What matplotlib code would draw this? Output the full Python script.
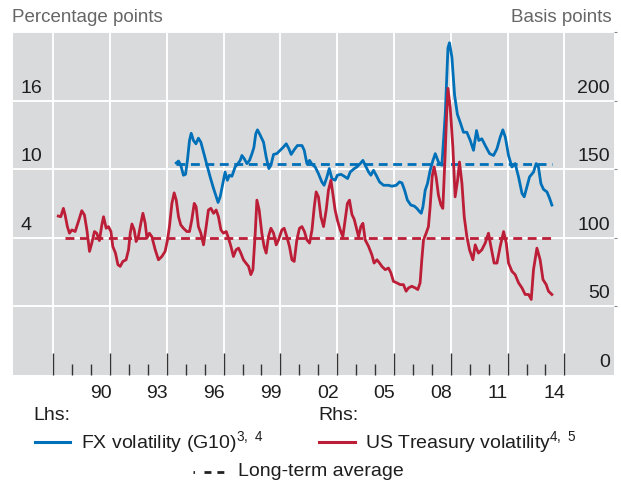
import numpy as np
import matplotlib
matplotlib.use("Agg")
import matplotlib.pyplot as plt
from matplotlib.lines import Line2D
import matplotlib.transforms as mtransforms

plt.rcParams['font.family'] = ['Liberation Sans', 'DejaVu Sans']
plt.rcParams['mathtext.default'] = 'regular'

# FX volatility (G10), percentage points, lhs
fx_year = [1994.50, 1994.62, 1994.74, 1994.88, 1994.99, 1995.09, 1995.20, 1995.29, 1995.41, 1995.54,
           1995.67, 1995.80, 1995.94, 1996.12, 1996.29, 1996.47, 1996.61, 1996.71, 1996.82, 1996.96,
           1997.08, 1997.20, 1997.31, 1997.44, 1997.61, 1997.73, 1997.88, 1997.97, 1998.09, 1998.23,
           1998.37, 1998.50, 1998.60, 1998.70, 1998.79, 1998.93, 1999.11, 1999.25, 1999.39, 1999.50,
           1999.64, 1999.81, 1999.99, 2000.16, 2000.31, 2000.45, 2000.57, 2000.73, 2000.90, 2001.14,
           2001.26, 2001.40, 2001.54, 2001.67, 2001.84, 2002.01, 2002.19, 2002.31, 2002.46, 2002.58,
           2002.72, 2002.89, 2003.01, 2003.20, 2003.37, 2003.55, 2003.69, 2003.90, 2004.04, 2004.22,
           2004.36, 2004.48, 2004.66, 2004.78, 2004.92, 2005.06, 2005.24, 2005.45, 2005.71, 2005.89,
           2006.12, 2006.29, 2006.42, 2006.56, 2006.71, 2006.89, 2007.07, 2007.21, 2007.35, 2007.44,
           2007.53, 2007.65, 2007.77, 2007.91, 2008.06, 2008.18, 2008.35, 2008.53, 2008.71, 2008.85,
           2008.93, 2009.06, 2009.20, 2009.35, 2009.50, 2009.67, 2009.85, 2010.03, 2010.20, 2010.36,
           2010.48, 2010.64, 2010.82, 2011.05, 2011.26, 2011.44, 2011.61, 2011.75, 2011.88, 2012.05,
           2012.23, 2012.40, 2012.58, 2012.76, 2012.88, 2013.02, 2013.16, 2013.37, 2013.51, 2013.63,
           2013.76, 2013.90, 2014.08, 2014.22, 2014.34]
fx_vol = [10.55, 10.72, 10.35, 9.48, 9.56, 10.78, 12.52, 13.15, 12.52, 12.23,
          12.72, 12.37, 11.50, 10.35, 9.33, 8.32, 7.59, 7.10, 7.59, 8.75,
          9.76, 9.04, 9.48, 9.39, 10.20, 10.44, 10.78, 11.21, 10.93, 10.50,
          10.78, 11.37, 11.90, 13.10, 13.45, 13.00, 12.37, 11.07, 10.06, 10.35,
          11.30, 11.37, 11.66, 11.94, 12.23, 11.80, 11.30, 11.71, 12.08, 12.08,
          11.66, 10.50, 10.78, 10.44, 10.20, 9.62, 8.89, 8.60, 9.33, 10.06,
          9.19, 9.04, 9.48, 9.56, 9.39, 9.19, 9.76, 10.06, 10.20, 10.50,
          10.78, 10.35, 9.76, 9.48, 9.91, 9.48, 8.89, 8.60, 8.60, 8.52,
          8.60, 8.89, 8.81, 8.17, 7.30, 6.87, 6.78, 6.58, 6.29, 6.15,
          6.72, 8.17, 8.75, 9.90, 10.78, 11.37, 10.63, 10.35, 14.87, 20.60,
          21.07, 19.80, 16.50, 14.80, 14.10, 13.24, 13.24, 12.52, 11.66, 13.39,
          12.52, 12.67, 12.08, 11.37, 11.21, 11.80, 12.81, 13.45, 12.81, 11.21,
          10.20, 10.50, 9.33, 7.89, 7.59, 8.46, 9.33, 9.76, 10.50, 10.20,
          8.75, 8.24, 8.02, 7.46, 6.87]

# US Treasury volatility, basis points, rhs
ust_year = [1988.27, 1988.40, 1988.54, 1988.63, 1988.75, 1988.86, 1988.99, 1989.16, 1989.33, 1989.51,
            1989.65, 1989.78, 1989.92, 1990.04, 1990.18, 1990.30, 1990.44, 1990.57, 1990.66, 1990.80,
            1990.92, 1991.05, 1991.15, 1991.29, 1991.42, 1991.54, 1991.68, 1991.85, 1991.98, 1992.07,
            1992.16, 1992.28, 1992.38, 1992.50, 1992.63, 1992.74, 1992.86, 1992.95, 1993.08, 1993.21,
            1993.39, 1993.56, 1993.74, 1993.91, 1994.04, 1994.14, 1994.27, 1994.39, 1994.50, 1994.62,
            1994.74, 1994.88, 1995.06, 1995.20, 1995.32, 1995.45, 1995.55, 1995.67, 1995.80, 1995.94,
            1996.08, 1996.20, 1996.33, 1996.47, 1996.61, 1996.73, 1996.86, 1996.99, 1997.14, 1997.26,
            1997.39, 1997.52, 1997.66, 1997.79, 1997.91, 1998.05, 1998.18, 1998.32, 1998.44, 1998.55,
            1998.67, 1998.76, 1998.88, 1999.02, 1999.14, 1999.25, 1999.37, 1999.50, 1999.64, 1999.78,
            1999.90, 2000.08, 2000.20, 2000.34, 2000.48, 2000.61, 2000.73, 2000.87, 2001.01, 2001.14,
            2001.27, 2001.40, 2001.54, 2001.67, 2001.79, 2001.89, 2002.01, 2002.14, 2002.28, 2002.42,
            2002.54, 2002.67, 2002.77, 2002.89, 2003.01, 2003.16, 2003.30, 2003.42, 2003.54, 2003.65,
            2003.78, 2003.90, 2004.04, 2004.13, 2004.25, 2004.36, 2004.48, 2004.66, 2004.83, 2004.95,
            2005.10, 2005.24, 2005.36, 2005.54, 2005.71, 2005.84, 2005.97, 2006.15, 2006.33, 2006.50,
            2006.64, 2006.77, 2006.94, 2007.12, 2007.26, 2007.38, 2007.47, 2007.56, 2007.70, 2007.82,
            2007.91, 2008.02, 2008.12, 2008.23, 2008.35, 2008.48, 2008.58, 2008.70, 2008.78, 2008.85,
            2008.97, 2009.11, 2009.23, 2009.36, 2009.46, 2009.59, 2009.71, 2009.85, 2009.99, 2010.17,
            2010.29, 2010.46, 2010.64, 2010.82, 2010.99, 2011.12, 2011.29, 2011.44, 2011.61, 2011.79,
            2011.93, 2012.05, 2012.23, 2012.40, 2012.58, 2012.76, 2012.93, 2013.11, 2013.25, 2013.37,
            2013.55, 2013.72, 2013.87, 2014.04, 2014.16, 2014.34]
ust_vol = [115.9, 115.4, 121.5, 116.7, 108.2, 103.4, 105.8, 104.6, 111.8, 119.8,
           116.7, 105.8, 90.1, 96.2, 104.6, 103.4, 98.0, 109.4, 115.4, 107.0,
           108.2, 104.6, 93.7, 88.9, 80.4, 79.2, 82.8, 84.0, 91.3, 103.4,
           110.1, 105.8, 97.3, 100.9, 110.6, 117.9, 110.6, 99.8, 103.4, 100.9,
           91.3, 84.0, 86.4, 90.1, 98.5, 108.2, 125.1, 132.8, 127.5, 115.4,
           109.4, 107.0, 104.6, 104.6, 113.0, 125.1, 122.7, 108.2, 103.4, 94.9,
           108.2, 120.3, 121.5, 117.9, 120.3, 115.4, 105.8, 103.4, 104.6, 99.8,
           93.7, 86.4, 91.3, 92.5, 88.9, 84.0, 81.6, 79.2, 73.2, 76.8,
           103.0, 127.5, 120.3, 103.4, 93.7, 88.9, 100.9, 107.0, 103.4, 94.9,
           98.5, 105.8, 107.0, 100.9, 93.7, 84.0, 82.8, 98.5, 107.0, 108.2,
           104.6, 98.5, 96.2, 105.8, 122.7, 133.5, 129.9, 115.4, 108.2, 120.3,
           134.8, 142.0, 132.4, 120.3, 113.0, 105.8, 100.9, 113.0, 125.1, 127.5,
           117.0, 113.5, 106.0, 100.9, 108.2, 110.6, 98.5, 93.7, 87.7, 81.6,
           84.0, 81.6, 79.2, 76.8, 78.0, 74.4, 68.3, 67.2, 65.9, 65.9,
           61.1, 63.5, 64.7, 63.5, 62.3, 67.2, 84.0, 98.5, 103.4, 108.2,
           122.7, 145.0, 151.7, 144.0, 131.0, 124.0, 121.5, 160.0, 190.0, 209.0,
           195.1, 166.2, 129.9, 142.0, 155.3, 139.6, 115.4, 100.9, 91.3, 84.0,
           94.9, 88.9, 91.3, 96.2, 103.4, 93.7, 81.6, 81.6, 93.7, 104.6,
           96.2, 81.6, 75.6, 73.2, 67.2, 63.5, 58.7, 58.7, 55.1, 76.8,
           92.5, 84.0, 69.6, 65.9, 61.1, 58.7]

# long-term averages: level, first year, last year
fx_avg = [10.5, 1994.5, 2014.35]
ust_avg = [100.0, 1988.6, 2014.35]

lhs_labels = [4, 10, 16]
rhs_labels = [0, 50, 100, 150, 200]
year_labels = [1990, 1993, 1996, 1999, 2002, 2005, 2008, 2011, 2014]

blue = '#0070B8'
red = '#BC1D37'
grey_bg = '#D9DADC'
txt = '#1E1E1E'

fig = plt.figure(figsize=(6.21, 4.87), dpi=100)
ax = fig.add_axes([0.021, 0.230, 0.968, 0.704])
ax.set_facecolor(grey_bg)
ax.set_xlim(1985.88, 2017.63)
ax.set_ylim(-8, 22)
for s in ax.spines.values():
    s.set_visible(False)

ax2 = ax.twinx()
ax2.set_ylim(0, 250)
ax2.patch.set_visible(False)
for s in ax2.spines.values():
    s.set_visible(False)

# grid: white lines at every 50 bp (= 6 pp)
ax.set_yticks([-2, 4, 10, 16, 22])
ax.set_xticks(np.arange(1988, 2016, 3))
ax.set_xticks(np.arange(1988, 2016, 1), minor=True)
ax.grid(True, which='major', color='white', linewidth=1.4)
ax.set_axisbelow(True)
ax.tick_params(axis='y', left=False, right=False, labelleft=False, labelright=False)
ax.tick_params(axis='x', which='major', direction='in', length=15.5, width=1.0,
               color='#333333', labelbottom=False)
ax.tick_params(axis='x', which='minor', direction='in', length=8, width=1.0,
               color='#333333')

dash = (0, (3.2, 2.0))
ax.plot(fx_year, fx_vol, color=blue, linewidth=2.0, solid_joinstyle='round')
ax.hlines(fx_avg[0], fx_avg[1], fx_avg[2], colors=blue, linewidth=2.0, linestyles=dash)

ax2.set_yticks([50, 100, 150, 200, 250])
ax2.tick_params(axis='y', left=False, right=True, direction='out', length=2, width=0.8,
                color='#888888', labelleft=False, labelright=False)
ax2.plot(ust_year, ust_vol, color=red, linewidth=2.0, solid_joinstyle='round')
ax2.hlines(ust_avg[0], ust_avg[1], ust_avg[2], colors=red, linewidth=2.0, linestyles=dash)

# axis labels drawn inside the plot area, just above the gridlines
off = mtransforms.ScaledTranslation(0, 3 / 72, fig.dpi_scale_trans)
for v in lhs_labels:
    ax.text(0.012, v, str(v), transform=ax.get_yaxis_transform() + off,
            ha='left', va='bottom', fontsize=14, color=txt)
for v in rhs_labels:
    ax2.text(0.993, v, str(v), transform=ax2.get_yaxis_transform() + off,
             ha='right', va='bottom', fontsize=14, color=txt)
for y in year_labels:
    ax.text(y + 0.5, -0.055, '%02d' % (y % 100), transform=ax.get_xaxis_transform(),
            ha='center', va='center', fontsize=14, color=txt)

fig.text(12 / 621, 1 - 18 / 487, 'Percentage points', ha='left', va='center',
         fontsize=13.5, color='#666666')
fig.text(612 / 621, 1 - 18 / 487, 'Basis points', ha='right', va='center',
         fontsize=13.5, color='#666666')

# legend
def fx(px):
    return px / 621

def fy(py):
    return 1 - py / 487

fig.text(fx(33), fy(415), 'Lhs:', ha='left', va='center', fontsize=14, color=txt)
fig.text(fx(318), fy(415), 'Rhs:', ha='left', va='center', fontsize=14, color=txt)
fig.add_artist(Line2D([fx(35), fx(70)], [fy(442), fy(442)], color=blue, linewidth=2.2))
fig.text(fx(81), fy(442), r'FX volatility (G10)$^{3,\ 4}$', ha='left', va='center',
         fontsize=14, color=txt)
fig.add_artist(Line2D([fx(319), fx(355)], [fy(442), fy(442)], color=red, linewidth=2.2))
fig.text(fx(365), fy(442), r'US Treasury volatility$^{4,\ 5}$', ha='left', va='center',
         fontsize=14, color=txt)
fig.add_artist(Line2D([fx(193), fx(226)], [fy(472), fy(472)], color='#222222',
                      linewidth=2.0, linestyle=(0, (0.55, 3.4, 2.5, 2.15, 2.5, 15))))
fig.text(fx(238), fy(472), 'Long-term average', ha='left', va='center',
         fontsize=14, color=txt)

fig.savefig('out.png', dpi=100)
